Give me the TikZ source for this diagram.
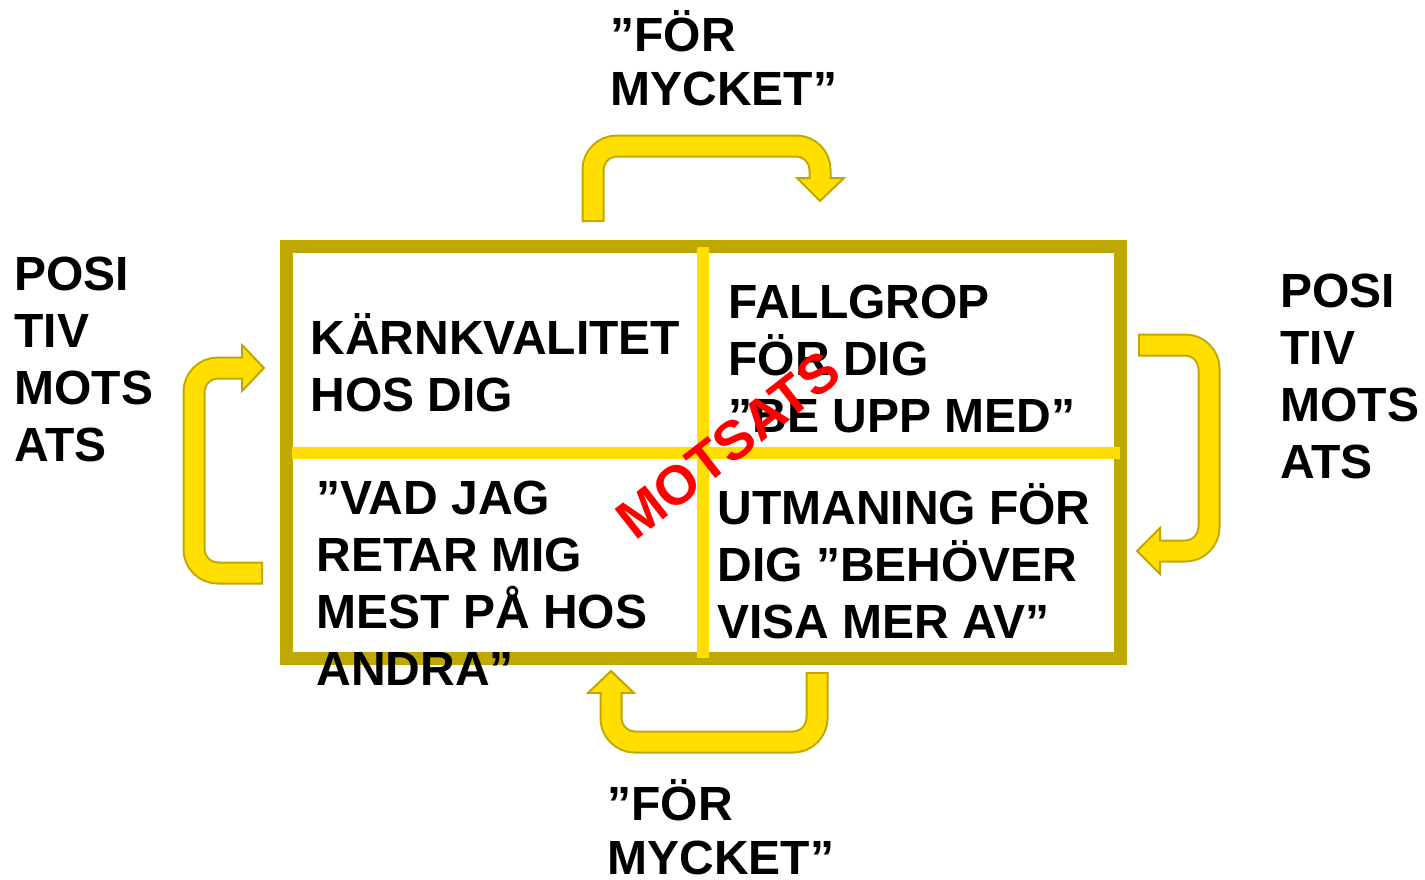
\documentclass[tikz,border=0pt]{standalone}
\usepackage{fontspec}
\setmainfont{Liberation Sans}
\definecolor{frameolive}{RGB}{191,168,0}
\definecolor{crossyellow}{RGB}{255,222,0}
\tikzset{
 lbl/.style={anchor=north west, inner sep=0pt, align=left, font=\fontsize{24}{28.5}\selectfont\bfseries},
 lblq/.style={lbl, font=\fontsize{24}{27}\selectfont\bfseries},
 frame/.style={draw=frameolive, line width=6.5pt},
 crossline/.style={draw=crossyellow, line width=6pt},
 arrowout/.style={draw=frameolive, line width=11.5pt, rounded corners=12pt},
 arrowin/.style={draw=crossyellow, line width=9.5pt, rounded corners=12pt, shorten <=1pt, shorten >=-1.5pt},
 arrowhead/.style={fill=crossyellow, draw=frameolive, line width=1pt, line join=miter},
}
\begin{document}
\begin{tikzpicture}[x=0.5pt,y=-0.5pt]
\useasboundingbox (0,0) rectangle (1425,879);
% frame and cross
\draw[frame] (286.5,246.5) rectangle (1120,658);
\coordinate (vt) at (703,247);
\coordinate (vb) at (703,658);
\coordinate (hl) at (292,453);
\coordinate (hr) at (1120,453);
\draw[crossline] (vt) -- (vb);
\draw[crossline] (hl) -- (hr);
% top arrow
\coordinate (ta1) at (593,222);
\coordinate (ta2) at (820,178);
\draw[arrowout] (ta1) -- (593,146) -- (820,146) -- (ta2);
\draw[arrowhead] (797,178) -- (844,178) -- (820,201) -- cycle;
\draw[arrowin] (ta1) -- (593,146) -- (820,146) -- (ta2);
% left arrow
\coordinate (la1) at (263,573);
\coordinate (la2) at (242,368);
\draw[arrowout] (la1) -- (194,573) -- (194,368) -- (la2);
\draw[arrowhead] (242,345) -- (242,391) -- (264,368) -- cycle;
\draw[arrowin] (la1) -- (194,573) -- (194,368) -- (la2);
% right arrow
\coordinate (ra1) at (1138,345);
\coordinate (ra2) at (1160,551);
\draw[arrowout] (ra1) -- (1209,345) -- (1209,551) -- (ra2);
\draw[arrowhead] (1160,528) -- (1160,574) -- (1137,551) -- cycle;
\draw[arrowin] (ra1) -- (1209,345) -- (1209,551) -- (ra2);
% bottom arrow
\coordinate (ba1) at (817,672);
\coordinate (ba2) at (611,693);
\draw[arrowout] (ba1) -- (817,742) -- (611,742) -- (ba2);
\draw[arrowhead] (588,693) -- (634,693) -- (611,671) -- cycle;
\draw[arrowin] (ba1) -- (817,742) -- (611,742) -- (ba2);
% texts
\node[lblq] (fortop) at (610,3.5) {\rule{0pt}{24pt}”FÖR\\MYCKET”};
\node[lblq] (forbot) at (607,772) {\rule{0pt}{24pt}”FÖR\\MYCKET”};
\node[lbl] (posl) at (14,242) {\rule{0pt}{24pt}POSI\\TIV\\MOTS\\ATS};
\node[lbl] (posr) at (1280,259) {\rule{0pt}{24pt}POSI\\TIV\\MOTS\\ATS};
\node[lbl] (karn) at (310,306) {\rule{0pt}{24pt}KÄRNKVALITET\\HOS DIG};
\node[lbl] (fall) at (728,270) {\rule{0pt}{24pt}FALLGROP\\FÖR DIG\\”BE UPP MED”};
\node[lbl] (vad) at (316,466) {\rule{0pt}{24pt}”VAD JAG\\RETAR MIG\\MEST PÅ HOS\\ANDRA”};
\node[lbl] (utm) at (717,476) {\rule{0pt}{24pt}UTMANING FÖR\\DIG ”BEHÖVER\\VISA MER AV”};
\node[rotate=38, inner sep=0pt, text=red, font=\fontsize{27.5}{32}\selectfont\bfseries] (mot) at (728,445) {MOTSATS};
\end{tikzpicture}
\end{document}
